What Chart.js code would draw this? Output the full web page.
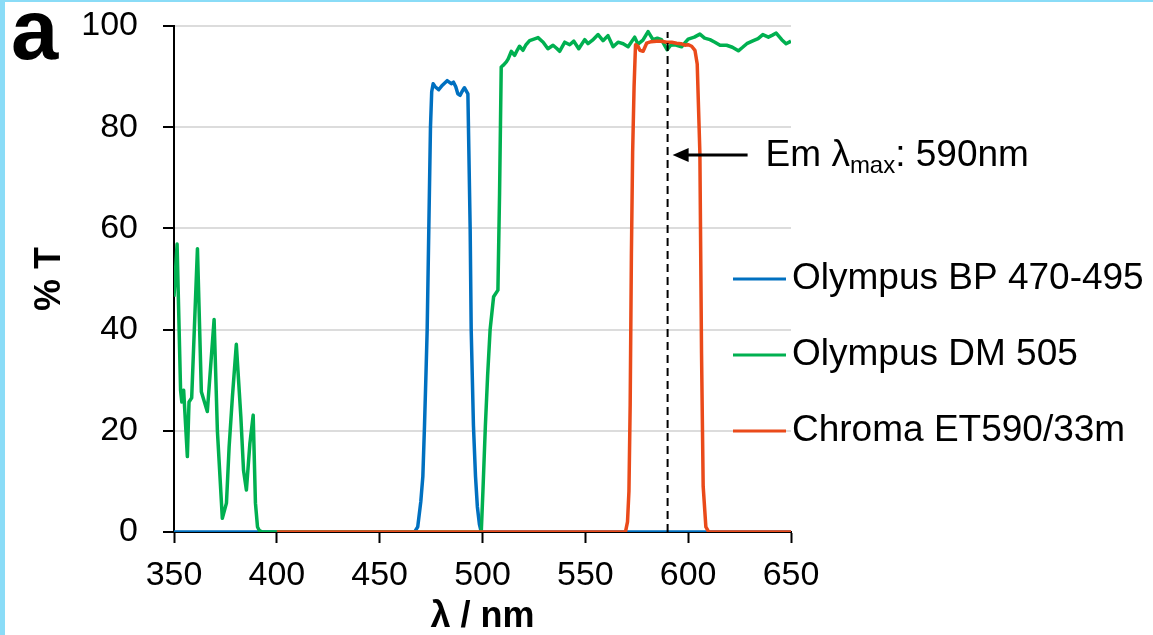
<!DOCTYPE html>
<html>
<head>
<meta charset="utf-8">
<script src="https://cdn.jsdelivr.net/npm/chart.js@4.4.0/dist/chart.umd.min.js"></script>
<style>
  html, body { margin: 0; padding: 0; background: #fff; }
  #wrap { position: relative; width: 1153px; height: 635px; overflow: hidden; }
  #edgeLeft { position: absolute; left: 0; top: 0; width: 5px; height: 635px; background: #8adcf7; }
  #edgeTop { position: absolute; left: 0; top: 0; width: 1153px; height: 2px; background: #8adcf7; }
</style>
</head>
<body>
<div id="wrap">
  <canvas id="chart" width="1153" height="635"></canvas>
  <div id="edgeLeft"></div>
  <div id="edgeTop"></div>
</div>
<script>
// wavelength (nm) / transmission (%)
const bpWl = [350, 467, 468.5, 470, 471, 471.8, 472.5, 473.1, 473.9, 474.7, 475.3, 476, 477, 478.7, 480.5, 482.8, 484.8, 485.9, 487, 488, 489.1, 490, 491.2, 492.9, 494, 494.5, 495.6, 496.6, 497.5, 498.5, 499.4, 650];
const bpT  = [0, 0, 1, 6, 11, 21, 31, 40, 60, 80, 87, 88.6, 88, 87.4, 88.3, 89.2, 88.6, 88.9, 88, 86.6, 86.3, 87, 87.8, 86.6, 60, 40, 21, 11, 5, 1.5, 0, 0];

const dmWl = [350, 351.5, 353.2, 353.8, 354.7, 356.5, 357.3, 358.6, 361.4, 363.3, 366.2, 369.5, 371.1, 373.5, 375.5, 376.8, 378.4, 380.3, 382.5, 383.8, 385.2, 386.9, 388.5, 389.6, 390.6, 391.5, 393,
  499.4, 500.2, 501.4, 502.5, 503.7, 505.4, 507.5, 508.3, 509.1, 510, 511.6, 512.5, 514, 515.6, 517, 518, 519.7, 521, 522.9, 525, 527, 529.5, 531.8, 534.3, 536, 537.5, 540, 542.4, 544.4, 546.8, 549.7, 551.3, 553.5, 556.2, 558.6, 561, 563.5, 565.9, 568.4, 570.8, 574, 575.6, 578, 580.5, 582.9, 585, 587, 589.8, 591.5, 593.6, 596.8, 600, 603, 605.7, 608, 610.6, 613, 615.5, 618.7, 621.5, 624.4, 626.5, 628.5, 631.7, 634, 636.3, 639, 641, 642.8, 645.5, 647.6, 650];
const dmT  = [46.5, 56.9, 28, 25.7, 28, 14.9, 25.7, 26.5, 56, 27.7, 23.8, 42, 20, 2.7, 5.7, 16.8, 26.7, 37.1, 22.8, 12.2, 8.3, 17.5, 23.1, 5.7, 1, 0.3, 0,
  0, 8, 21, 31, 40, 46.5, 47.8, 67, 91.9, 92.2, 92.9, 93.5, 95, 94.2, 95.3, 96, 95.2, 96.2, 97.1, 97.4, 97.7, 96.8, 95.5, 96.2, 95.6, 95, 96.8, 96.3, 97, 95.5, 97.3, 96.5, 97.2, 98.3, 97.1, 98.1, 95.9, 96.8, 96.5, 95.9, 97.8, 96.4, 97.2, 98.9, 97.3, 97.6, 97.3, 95.3, 96.2, 96.3, 95.9, 97.4, 97.8, 98.4, 97.6, 97.3, 96.8, 96.2, 96.2, 95.8, 95.1, 95.8, 96.5, 97.1, 97.5, 98.3, 97.8, 98.2, 98.6, 97.3, 96.5, 97];

const etWl = [400, 569.5, 570.5, 571.2, 571.8, 572.4, 573, 573.7, 574.4, 575.6, 576.5, 578.1, 579.8, 582, 584.6, 587, 589.5, 592, 594.4, 596.5, 598.4, 600, 601.7, 603.3, 604.4, 605.7, 606.5, 607.3, 608.6, 610, 650];
const etT  = [0, 0, 2, 8, 25, 55, 75, 88, 96.3, 96, 95.2, 95, 96.6, 96.9, 97, 97, 96.8, 96.8, 96.6, 96.5, 96.2, 96.3, 96, 95.2, 92.5, 74.8, 35.3, 9, 1, 0, 0];

const emMax = 590;
const emLineT = [0, 98.8];

const seriesNames = ['Olympus BP 470-495', 'Olympus DM 505', 'Chroma ET590/33m'];
const seriesColors = ['#0070C0', '#00B050', '#EA4A1A'];
const xTicks = { min: 350, max: 650, step: 50 };
const yTicks = { min: 0, max: 100, step: 20 };

const pts = (xs, ys) => xs.map((x, i) => ({ x: x, y: ys[i] }));

const FONT = "'Liberation Sans', Arial, sans-serif";
Chart.defaults.font.family = FONT;
Chart.defaults.color = '#000';

// legend drawn over the plot, plus the emission marker label and arrow
const extras = {
  id: 'extras',
  afterDatasetsDraw(chart) {
    const ctx = chart.ctx;
    const area = chart.chartArea;
    const xs = chart.scales.x, ys = chart.scales.y;
    ctx.save();

    // legend
    ctx.font = '37px ' + FONT;
    ctx.textBaseline = 'middle';
    ctx.textAlign = 'left';
    for (let i = 0; i < 3; i++) {
      const y = area.top + 253 + i * 76;
      ctx.strokeStyle = seriesColors[i];
      ctx.lineWidth = 3;
      ctx.beginPath();
      ctx.moveTo(area.right - 58, y);
      ctx.lineTo(area.right - 5, y);
      ctx.stroke();
      ctx.fillStyle = '#000';
      ctx.fillText(seriesNames[i], area.right + 1, y);
    }

    // arrow pointing to the dashed line
    const ay = ys.getPixelForValue(74.5);
    const headX = xs.getPixelForValue(emMax) + 5;
    const tailX = headX + 75;
    ctx.strokeStyle = '#000';
    ctx.fillStyle = '#000';
    ctx.lineWidth = 3;
    ctx.beginPath();
    ctx.moveTo(tailX, ay);
    ctx.lineTo(headX + 12, ay);
    ctx.stroke();
    ctx.beginPath();
    ctx.moveTo(headX, ay);
    ctx.lineTo(headX + 16, ay - 7);
    ctx.lineTo(headX + 16, ay + 7);
    ctx.closePath();
    ctx.fill();

    // "Em λmax: 590nm"
    let tx = tailX + 18;
    const base = ay + 11;
    ctx.textBaseline = 'alphabetic';
    ctx.font = '37px ' + FONT;
    ctx.fillText('Em \u03bb', tx, base);
    tx += ctx.measureText('Em \u03bb').width;
    ctx.font = '24px ' + FONT;
    ctx.fillText('max', tx, base + 7);
    tx += ctx.measureText('max').width;
    ctx.font = '37px ' + FONT;
    ctx.fillText(': ' + emMax + 'nm', tx, base);

    // panel letter
    ctx.font = 'bold 85px ' + FONT;
    ctx.fillText('a', 11, 59);
    ctx.restore();
  }
};

new Chart(document.getElementById('chart'), {
  type: 'line',
  data: {
    datasets: [
      { label: seriesNames[0], data: pts(bpWl, bpT), borderColor: seriesColors[0], order: 3 },
      { label: seriesNames[1], data: pts(dmWl, dmT), borderColor: seriesColors[1], order: 2 },
      { label: seriesNames[2], data: pts(etWl, etT), borderColor: seriesColors[2], order: 1 },
      { label: 'Em max', data: pts([emMax, emMax], emLineT), borderColor: '#000', borderWidth: 2, borderDash: [8, 5], order: 0 }
    ]
  },
  options: {
    responsive: false,
    animation: false,
    events: [],
    elements: {
      point: { radius: 0 },
      line: { borderWidth: 3.5, tension: 0, fill: false, borderJoinStyle: 'round' }
    },
    layout: { padding: { top: 26, right: 362, left: 0, bottom: 0 } },
    plugins: { legend: { display: false }, tooltip: { enabled: false } },
    scales: {
      x: {
        type: 'linear',
        min: xTicks.min, max: xTicks.max,
        afterFit: s => { s.height = 103; },
        ticks: { stepSize: xTicks.step, font: { size: 34 }, padding: 12, maxRotation: 0, color: '#000' },
        grid: { drawOnChartArea: false, tickLength: 11, tickColor: '#000', tickWidth: 2 },
        border: { color: '#000', width: 2 },
        title: { display: true, text: '\u03bb / nm', font: { size: 36, weight: 'bold', lineHeight: 1 }, padding: 0, color: '#000' }
      },
      y: {
        min: yTicks.min, max: yTicks.max,
        // tick padding would otherwise push the plot top down
        afterFit: s => { s.width = 174; s.paddingTop = 20; s.paddingBottom = 20; },
        ticks: { stepSize: yTicks.step, font: { size: 34 }, padding: 25, color: '#000' },
        grid: { color: '#dcdcdc', lineWidth: 2, tickLength: 11, tickColor: '#000', tickWidth: 2 },
        border: { color: '#000', width: 2 },
        title: { display: true, text: '% T', font: { size: 36, weight: 'bold' }, padding: { top: 28, bottom: 0 }, color: '#000' }
      }
    }
  },
  plugins: [extras]
});
</script>
</body>
</html>
